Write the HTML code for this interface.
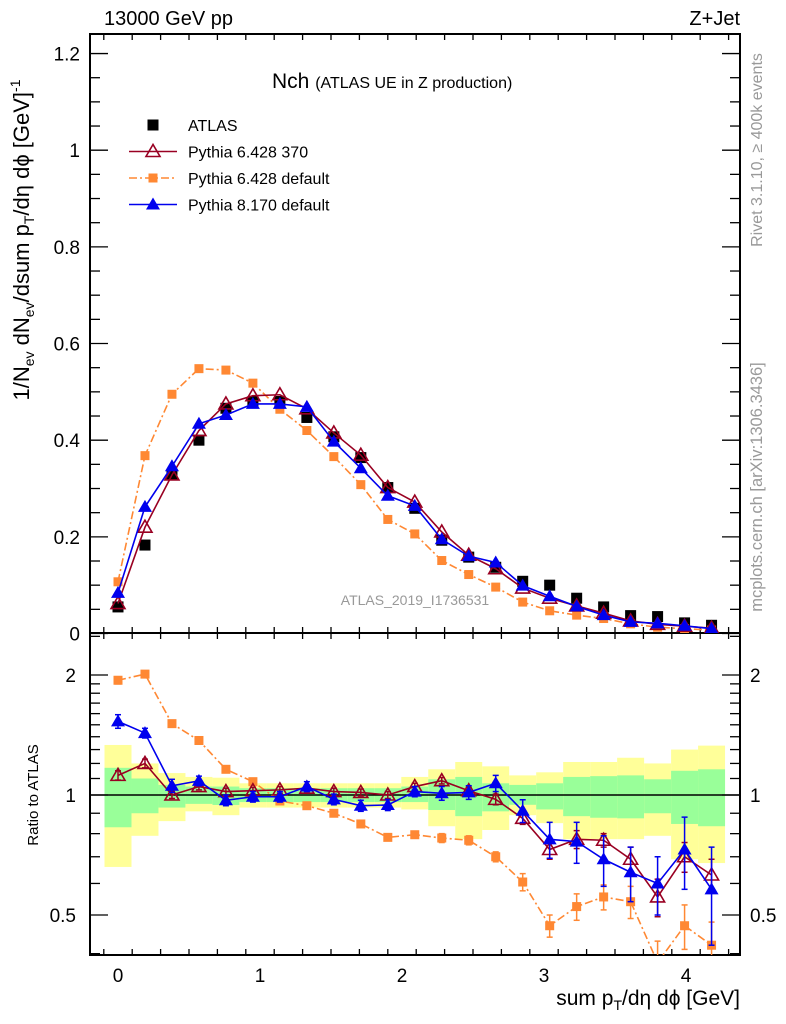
<!DOCTYPE html>
<html><head><meta charset="utf-8"><style>
html,body{margin:0;padding:0;background:#fff}
svg{display:block;font-family:"Liberation Sans",sans-serif}
</style></head><body>
<svg id="c" width="786" height="1024" viewBox="0 0 786 1024" xmlns="http://www.w3.org/2000/svg"></svg>
<script>
const xs=[0,0.19,0.38,0.57,0.76,0.95,1.14,1.33,1.52,1.71,1.9,2.09,2.28,2.47,2.66,2.85,3.04,3.23,3.42,3.61,3.8,3.99,4.18];
const atlasVals=[0.055,0.183,0.328,0.40,0.466,0.48,0.48,0.447,0.407,0.364,0.302,0.259,0.193,0.158,0.137,0.108,0.10,0.073,0.055,0.037,0.035,0.022,0.017];
const p370Vals=[0.062,0.22,0.328,0.42,0.475,0.492,0.494,0.465,0.415,0.369,0.302,0.272,0.21,0.162,0.134,0.094,0.073,0.057,0.042,0.026,0.019,0.015,0.011];
const p6defVals=[0.107,0.368,0.495,0.548,0.545,0.518,0.464,0.42,0.366,0.308,0.236,0.206,0.151,0.122,0.096,0.065,0.047,0.038,0.031,0.020,0.013,0.010,0.007];
const p8Vals=[0.084,0.262,0.346,0.434,0.452,0.475,0.475,0.469,0.397,0.342,0.285,0.264,0.195,0.160,0.147,0.099,0.077,0.056,0.038,0.024,0.021,0.016,0.010];
const p370Ratio=[1.12,1.2,1.0,1.05,1.02,1.025,1.03,1.04,1.02,1.015,1.0,1.05,1.086,1.025,0.975,0.874,0.73,0.774,0.77,0.69,0.555,0.70,0.63];
const p6defRatio=[1.94,2.01,1.51,1.37,1.16,1.08,0.966,0.94,0.90,0.846,0.783,0.795,0.78,0.77,0.70,0.605,0.47,0.525,0.555,0.54,0.38,0.47,0.42];
const p8Ratio=[1.53,1.43,1.055,1.085,0.97,0.99,0.99,1.05,0.975,0.94,0.944,1.02,1.01,1.015,1.07,0.913,0.774,0.764,0.69,0.64,0.60,0.73,0.58];
const p8Err=[0.06,0.04,0.04,0.03,0.03,0.03,0.03,0.03,0.03,0.03,0.03,0.03,0.04,0.04,0.05,0.06,0.08,0.09,0.1,0.1,0.1,0.15,0.16];
const p6Err=[0.04,0.02,0.02,0.02,0.01,0.01,0.01,0.01,0.01,0.01,0.01,0.01,0.02,0.02,0.02,0.03,0.03,0.04,0.04,0.05,0.05,0.06,0.06];
const p370Err=[0.03,0.03,0.02,0.02,0.02,0.02,0.02,0.02,0.02,0.02,0.02,0.02,0.02,0.02,0.03,0.03,0.04,0.04,0.03,0.05,0.06,0.06,0.06];
const yellowHi=[1.335,1.2,1.135,1.11,1.105,1.07,1.07,1.07,1.07,1.07,1.07,1.11,1.16,1.21,1.18,1.12,1.14,1.21,1.21,1.24,1.2,1.30,1.33];
const yellowLo=[0.66,0.79,0.86,0.91,0.89,0.93,0.93,0.93,0.93,0.93,0.93,0.92,0.835,0.775,0.817,0.89,0.85,0.775,0.775,0.775,0.79,0.69,0.675];
const greenHi=[1.17,1.10,1.06,1.05,1.05,1.04,1.04,1.04,1.04,1.04,1.04,1.05,1.095,1.11,1.07,1.06,1.07,1.11,1.115,1.12,1.095,1.15,1.16];
const greenLo=[0.83,0.9,0.93,0.95,0.944,0.96,0.96,0.96,0.96,0.96,0.96,0.96,0.917,0.885,0.91,0.945,0.92,0.885,0.877,0.874,0.9,0.846,0.835];
const xTicks=[0,1,2,3,4];
const yTicks=[0,0.2,0.4,0.6,0.8,1,1.2];
const yTickLabels=["0","0.2","0.4","0.6","0.8","1","1.2"];
const rTicks=[0.5,1,2];

const svg=document.getElementById('c');
const NS='http://www.w3.org/2000/svg';
const L=90,R=740,T=34,MB=633,RB=955;
const X=v=>118+v*142;
const Y=v=>633.5-v*483.3;
const RY=v=>795-Math.log10(v)*398.7;
function el(tag,attrs,parent){const e=document.createElementNS(NS,tag);for(const k in attrs)e.setAttribute(k,attrs[k]);(parent||svg).appendChild(e);return e;}
function txt(s,x,y,size,attrs,parent){const t=el('text',Object.assign({x:x,y:y,'font-size':size},attrs||{}),parent);t.textContent=s;return t;}

const defs=el('defs',{});
const c1=el('clipPath',{id:'cm'},defs);el('rect',{x:L,y:T,width:R-L,height:MB-T},c1);
const c2=el('clipPath',{id:'cr'},defs);el('rect',{x:L,y:MB,width:R-L,height:RB-MB},c2);

const bands=el('g',{'clip-path':'url(#cr)'});


xs.forEach((x,i)=>{
  const x0=X(x-0.095),x1=X(x+0.095);
  const y=el('rect',{x:x0,y:RY(yellowHi[i]),width:x1-x0,height:RY(yellowLo[i])-RY(yellowHi[i]),fill:'#ffff99'},bands);
  
  
  const g=el('rect',{x:x0,y:RY(greenHi[i]),width:x1-x0,height:RY(greenLo[i])-RY(greenHi[i]),fill:'#99ff99'},bands);
  
  
});
el('line',{x1:L,x2:R,y1:RY(1),y2:RY(1),stroke:'#000','stroke-width':1.5});

const f1=el('rect',{x:L,y:T,width:R-L,height:MB-T,fill:'none',stroke:'#000','stroke-width':2});


const f2=el('rect',{x:L,y:MB,width:R-L,height:RB-MB,fill:'none',stroke:'#000','stroke-width':2});



const tk=el('g',{stroke:'#000','stroke-width':1.3});


for(let v=-0.1;v<=4.35;v+=0.2){const xv=Math.round(v*10)/10;const major=Math.abs(xv-Math.round(xv))<1e-6;const px=X(xv);if(px<L||px>R)continue;const len=major?13:6;
  [[T,1],[MB,-1],[MB,1],[RB,-1]].forEach(([y0,d])=>el('line',{x1:px,x2:px,y1:y0,y2:y0+d*len},tk));}
for(let v=0;v<=1.24;v+=0.05){const vv=Math.round(v*100)/100;const major=Math.abs(vv*5-Math.round(vv*5))<1e-6;const py=Y(vv);const len=major?18:10;
  el('line',{x1:L,x2:L+len,y1:py,y2:py},tk);el('line',{x1:R,x2:R-len,y1:py,y2:py},tk);}
[0.4,0.5,0.6,0.7,0.8,0.9,1,1.1,1.2,1.3,1.4,1.5,1.6,1.7,1.8,1.9,2,2.5].forEach(v=>{const py=RY(v);if(py<MB||py>RB)return;const major=rTicks.includes(v);const len=major?18:10;
  el('line',{x1:L,x2:L+len,y1:py,y2:py},tk);el('line',{x1:R,x2:R-len,y1:py,y2:py},tk);});

xTicks.forEach(v=>{const t=txt(String(v),X(v),982,19,{'text-anchor':'middle'});});
yTicks.forEach((v,i)=>{const t=txt(yTickLabels[i],80,Y(v)+7,19,{'text-anchor':'end'});});
rTicks.forEach(v=>{const lbl=String(v);
  const a=txt(lbl,76,RY(v)+7,19,{'text-anchor':'end'});
  const b=txt(lbl,750,RY(v)+7,19,{'text-anchor':'start'});});

function marker(type,x,y,color,g){
  if(type==='sq'){el('rect',{x:x-5.5,y:y-5.5,width:11,height:11,fill:color},g);}
  else if(type==='osq'){el('rect',{x:x-4.5,y:y-4.5,width:9,height:9,fill:color},g);}
  else if(type==='tri'){el('polygon',{points:`${x},${y-7} ${x-7},${y+5} ${x+7},${y+5}`,fill:color},g);}
  else if(type==='otri'){el('polygon',{points:`${x},${y-7} ${x-7},${y+5} ${x+7},${y+5}`,fill:'none',stroke:color,'stroke-width':1.6},g);}
}
function series(name,vals,fy,color,type,dash,errs,clip){
  const g=el('g',{'clip-path':clip});
  
  
  if(color!=='#000'){
    const pts=xs.map((x,i)=>X(x)+','+fy(vals[i])).join(' ');
    el('polyline',{points:pts,fill:'none',stroke:color,'stroke-width':1.6,'stroke-dasharray':dash||''},g);
  }
  xs.forEach((x,i)=>{
    if(errs){const e=errs[i];const y1=fy(vals[i]+e),y2=fy(Math.max(vals[i]-e,0.01));el('line',{x1:X(x),x2:X(x),y1:y1,y2:y2,stroke:color,'stroke-width':1.5},g);
      el('line',{x1:X(x)-3,x2:X(x)+3,y1:y1,y2:y1,stroke:color,'stroke-width':1.5},g);el('line',{x1:X(x)-3,x2:X(x)+3,y1:y2,y2:y2,stroke:color,'stroke-width':1.5},g);}
    marker(type,X(x),fy(vals[i]),color,g);
  });
}
series('atlas-data',atlasVals,Y,'#000','sq',null,null,'url(#cm)');
series('pythia6-default-line',p6defVals,Y,'#ff8833','osq','8,3,2,3',null,'url(#cm)');
series('pythia6-370-line',p370Vals,Y,'#990022','otri',null,null,'url(#cm)');
series('pythia8-line',p8Vals,Y,'#0000ee','tri',null,null,'url(#cm)');
series('pythia6-default-ratio',p6defRatio,RY,'#ff8833','osq','8,3,2,3',p6Err,'url(#cr)');
series('pythia6-370-ratio',p370Ratio,RY,'#990022','otri',null,p370Err,'url(#cr)');
series('pythia8-ratio',p8Ratio,RY,'#0000ee','tri',null,p8Err,'url(#cr)');

const lg=el('g',{});


const legend=[['ATLAS','#000','sq',null],['Pythia 6.428 370','#990022','otri',''],['Pythia 6.428 default','#ff8833','osq','8,3,2,3'],['Pythia 8.170 default','#0000ee','tri','']];
legend.forEach((d,i)=>{const y=125+i*26.5;
  const e=el('g',{},lg);
  
  
  if(d[3]!==null)el('line',{x1:129,x2:177,y1:y,y2:y,stroke:d[1],'stroke-width':1.6,'stroke-dasharray':d[3]},e);
  marker(d[2],153,y,d[1],e);
  txt(d[0],188,y+6,16,{},e);});

let t;
t=txt('13000 GeV pp',104,25,20);
t=txt('Z+Jet',740,25,20,{'text-anchor':'end'});
t=el('text',{x:272,y:88,'font-size':21});
t.innerHTML='Nch <tspan font-size="16">(ATLAS UE in Z production)</tspan>';
t=txt('ATLAS_2019_I1736531',415,605,14,{'text-anchor':'middle',fill:'#999'});
t=txt('Rivet 3.1.10, ≥ 400k events',762,150,16,{'text-anchor':'middle',fill:'#999',transform:'rotate(-90 762 150)'});
t=txt('mcplots.cern.ch [arXiv:1306.3436]',762,487,16.5,{'text-anchor':'middle',fill:'#999',transform:'rotate(-90 762 487)'});
t=el('text',{x:29,y:240,'font-size':22,'text-anchor':'middle',transform:'rotate(-90 29 240)'});
t.innerHTML='1/N<tspan font-size="14" dy="5">ev</tspan><tspan dy="-5"> dN</tspan><tspan font-size="14" dy="5">ev</tspan><tspan dy="-5">/dsum p</tspan><tspan font-size="14" dy="5">T</tspan><tspan dy="-5">/dη dϕ  [GeV]</tspan><tspan font-size="14" dy="-9">-1</tspan>';
t=txt('Ratio to ATLAS',38,795,15,{'text-anchor':'middle',transform:'rotate(-90 38 795)'});
t=el('text',{x:740,y:1005,'font-size':21,'text-anchor':'end'});
t.innerHTML='sum p<tspan font-size="14" dy="5">T</tspan><tspan dy="-5">/dη dϕ [GeV]</tspan>';
</script>
</body></html>
